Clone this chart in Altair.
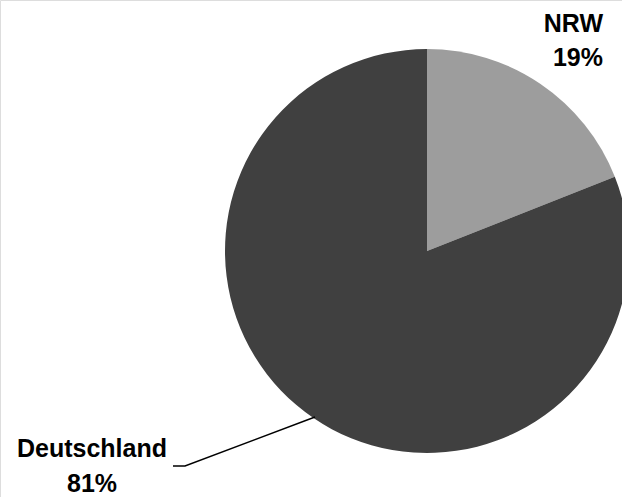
import altair as alt
import pandas as pd

regions = ["NRW", "Deutschland"]
shares = [19, 81]
colors = ["#9d9d9d", "#404040"]
order = [1, 2]

label_lines = ["NRW", "19%", "Deutschland", "81%"]
label_x = [603, 603, 92, 92]
label_y = [32, 66, 457, 492]
label_align = ["right", "right", "center", "center"]

leader_x = [173, 185, 315]
leader_y = [466, 466, 417]

pie_df = pd.DataFrame({"region": regions, "share": shares, "ord": order})
lab_df = pd.DataFrame({"t": label_lines, "px": label_x, "py": label_y, "al": label_align})
lead_df = pd.DataFrame({"px": leader_x, "py": leader_y, "i": [0, 1, 2]})

pie = alt.Chart(pie_df).mark_arc(radius=202, stroke=None).encode(
    theta=alt.Theta("share:Q", stack=True),
    color=alt.Color("region:N", scale=alt.Scale(domain=regions, range=colors), legend=None),
    order=alt.Order("ord:Q"),
    x=alt.value(427),
    y=alt.value(251),
)

def text_layer(al):
    return alt.Chart(lab_df).transform_filter(alt.datum.al == al).mark_text(
        font="Liberation Sans", fontWeight="bold", fontSize=25, align=al,
        baseline="alphabetic", color="#000000",
    ).encode(
        x=alt.X("px:Q", scale=None),
        y=alt.Y("py:Q", scale=None),
        text="t:N",
    )

leader = alt.Chart(lead_df).mark_line(color="#000000", strokeWidth=1.5).encode(
    x=alt.X("px:Q", scale=None),
    y=alt.Y("py:Q", scale=None),
    order="i:Q",
)

chart = alt.layer(pie, leader, text_layer("right"), text_layer("center")).properties(
    width=622, height=497,
    autosize=alt.AutoSizeParams(type="none"),
    padding=0,
).configure_view(stroke=None).configure(background="#ffffff")

chart.save("out.html", embed_options={"renderer": "svg", "actions": False})
